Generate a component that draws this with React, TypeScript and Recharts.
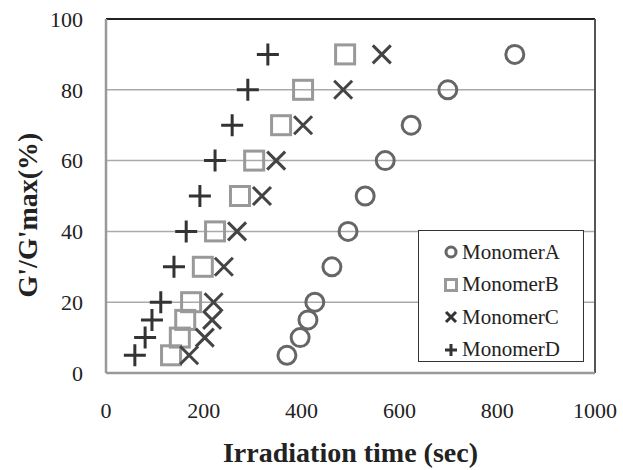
import { ScatterChart, Scatter, XAxis, YAxis, CartesianGrid, ReferenceLine, Legend, Label } from 'recharts';

// G'/G'max levels (%) shared by every monomer
const levels = [5, 10, 15, 20, 30, 40, 50, 60, 70, 80, 90];

// irradiation time (sec) at which each level is reached
const timeA = [370, 397, 413, 427, 462, 495, 530, 571, 624, 699, 836];
const timeB = [133, 151, 162, 174, 198, 223, 274, 303, 358, 403, 489];
const timeC = [170, 202, 217, 220, 241, 268, 319, 348, 403, 485, 564];
const timeD = [59, 80, 94, 112, 139, 164, 192, 223, 258, 290, 331];

const xTicks = [0, 200, 400, 600, 800, 1000];
const yTicks = [0, 20, 40, 60, 80, 100];

const toPoints = (times: number[]) => times.map((t, i) => ({ x: t, y: levels[i] }));

const serif = '"Liberation Serif", "Times New Roman", serif';

const CircleMark = ({ cx, cy }: any) => (
  <circle cx={cx} cy={cy} r={9} fill="none" stroke="#666" strokeWidth={3} />
);
const SquareMark = ({ cx, cy }: any) => (
  <rect x={cx - 9.5} y={cy - 9.5} width={19} height={19} fill="none" stroke="#999" strokeWidth={3} />
);
const CrossMark = ({ cx, cy }: any) => (
  <path d={`M${cx - 9},${cy - 9}L${cx + 9},${cy + 9}M${cx + 9},${cy - 9}L${cx - 9},${cy + 9}`} stroke="#444" strokeWidth={3} fill="none" />
);
const PlusMark = ({ cx, cy }: any) => (
  <path d={`M${cx - 11},${cy}L${cx + 11},${cy}M${cx},${cy - 11}L${cx},${cy + 11}`} stroke="#333" strokeWidth={3} fill="none" />
);

const series = [
  { name: 'MonomerA', data: toPoints(timeA), shape: CircleMark },
  { name: 'MonomerB', data: toPoints(timeB), shape: SquareMark },
  { name: 'MonomerC', data: toPoints(timeC), shape: CrossMark },
  { name: 'MonomerD', data: toPoints(timeD), shape: PlusMark },
];

function LegendIcon({ name }: { name: string }) {
  if (name === 'MonomerA') return <circle cx={8} cy={8} r={5} fill="none" stroke="#666" strokeWidth={3} />;
  if (name === 'MonomerB') return <rect x={2.5} y={2.5} width={11} height={11} fill="none" stroke="#999" strokeWidth={3} />;
  if (name === 'MonomerC') return <path d="M3,3L13,13M13,3L3,13" stroke="#333" strokeWidth={3} />;
  return <path d="M2,8L14,8M8,2L8,14" stroke="#333" strokeWidth={3} />;
}

function LegendBox() {
  return (
    <div
      style={{
        position: 'absolute',
        left: 418,
        top: 230,
        width: 166,
        height: 132,
        border: '1.5px solid #333',
        background: '#fff',
        fontFamily: serif,
        fontSize: 21,
        color: '#222',
        paddingTop: 5,
        boxSizing: 'border-box',
      }}
    >
      {series.map((s) => (
        <div key={s.name} style={{ display: 'flex', alignItems: 'center', height: 32.5, paddingLeft: 24 }}>
          <svg width={16} height={16} style={{ marginRight: 3 }}>
            <LegendIcon name={s.name} />
          </svg>
          <span>{s.name}</span>
        </div>
      ))}
    </div>
  );
}

export default function App() {
  return (
    <div style={{ position: 'absolute', left: 0, top: 0, width: 623, height: 470, background: '#fff' }}>
      <ScatterChart width={623} height={470} margin={{ top: 19, right: 28, bottom: 0, left: 0 }}>
        <CartesianGrid horizontal vertical={false} stroke="#aaa" strokeWidth={1.5} />
        <XAxis
          type="number"
          dataKey="x"
          domain={[0, 1000]}
          ticks={xTicks}
          height={97}
          axisLine={{ stroke: '#999', strokeWidth: 2.5 }}
          tickLine={false}
          tickMargin={23}
          tick={{ fill: '#222', fontSize: 22, fontFamily: serif }}
          interval={0}
        >
          <Label
            value="Irradiation time (sec)"
            position="insideBottom"
            offset={8}
            style={{ fill: '#222', fontSize: 28, fontWeight: 'bold', fontFamily: serif }}
          />
        </XAxis>
        <YAxis
          type="number"
          dataKey="y"
          domain={[0, 100]}
          ticks={yTicks}
          width={106}
          axisLine={{ stroke: '#999', strokeWidth: 2.5 }}
          tickLine={false}
          tickMargin={17}
          tick={{ fill: '#222', fontSize: 22, fontFamily: serif }}
          interval={0}
        >
          <Label
            content={() => (
              <text
                x={27}
                y={215}
                transform="rotate(-90 27 215)"
                textAnchor="middle"
                dominantBaseline="central"
                style={{ fill: '#222', fontSize: 28, fontWeight: 'bold', fontFamily: serif }}
              >
                G'/G'max(%)
              </text>
            )}
          />
        </YAxis>
        <ReferenceLine y={100} stroke="#222" strokeWidth={2} />
        <ReferenceLine x={1000} stroke="#555" strokeWidth={2} />
        {series.map((s) => (
          <Scatter key={s.name} name={s.name} data={s.data} shape={s.shape} isAnimationActive={false} />
        ))}
        <Legend content={() => null} />
      </ScatterChart>
      <LegendBox />
    </div>
  );
}
